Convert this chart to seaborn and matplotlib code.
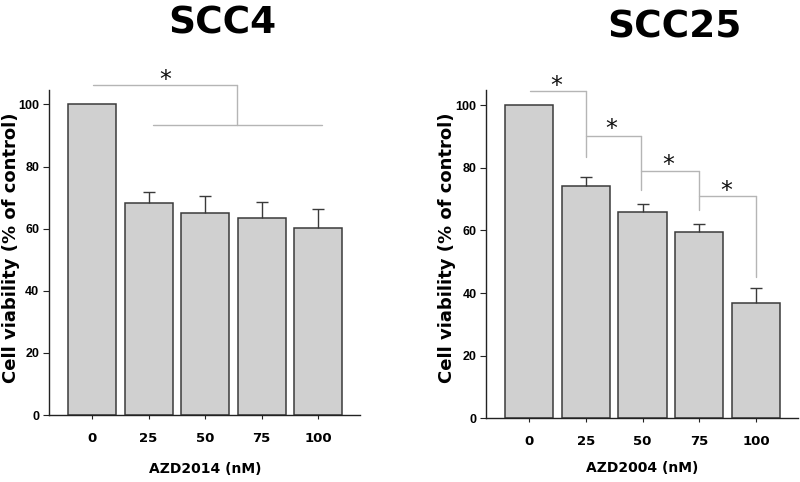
import matplotlib
matplotlib.use("Agg")
import matplotlib.pyplot as plt
import pandas as pd
import seaborn as sns

# Данные
doses = ["0", "25", "50", "75", "100"]
scc4_mean = [100.0, 68.2, 65.0, 63.3, 60.2]
scc4_err = [0.0, 3.5, 5.5, 5.4, 6.2]
scc25_mean = [100.0, 74.2, 65.9, 59.4, 36.7]
scc25_err = [0.0, 2.9, 2.7, 2.8, 4.8]

sns.set_style("ticks")
plt.rcParams["font.family"] = ["DejaVu Sans"]
plt.rcParams["text.color"] = "black"

BAR_FILL = "#d0d0d0"
BAR_EDGE = "#3a3a3a"
BRACKET = "#b5b5b5"


def draw_panel(ax, means, errs, xlim, ylim_top):
    df = pd.DataFrame({"dose": doses, "viability": means})
    sns.barplot(data=df, x="dose", y="viability", order=doses, color=BAR_FILL,
                edgecolor=BAR_EDGE, linewidth=1.1, width=0.85, errorbar=None,
                saturation=1, ax=ax)
    # только верхние усы, без нижнего колпачка
    idx = [i for i, e in enumerate(errs) if e > 0]
    _, caps, _ = ax.errorbar(idx, [means[i] for i in idx],
                             yerr=[[0] * len(idx), [errs[i] for i in idx]],
                             fmt="none", ecolor=BAR_EDGE, elinewidth=1.0,
                             capsize=4.5, capthick=1.0)
    caps[0].remove()
    ax.set_xlim(*xlim)
    ax.set_ylim(0, ylim_top)
    ax.set_yticks([0, 20, 40, 60, 80, 100])
    ax.set_xlabel("")
    ax.set_ylabel("")
    sns.despine(ax=ax)
    for s in ["left", "bottom"]:
        ax.spines[s].set_color("#222222")
        ax.spines[s].set_linewidth(1.0)
    ax.tick_params(axis="y", length=4, width=0.8, pad=3, colors="#222222")
    ax.tick_params(axis="x", length=3, width=0.8, pad=9, colors="#222222")
    for lab in ax.get_yticklabels():
        lab.set_family(["Liberation Sans Narrow", "Liberation Sans"])
        lab.set_fontweight("bold")
        lab.set_fontsize(9)
        lab.set_color("black")
    for lab in ax.get_xticklabels():
        lab.set_family(["DejaVu Sans"])
        lab.set_fontweight("bold")
        lab.set_fontsize(9.5)
        lab.set_color("black")


def line(ax, xs, ys):
    ax.plot(xs, ys, color=BRACKET, lw=1.0, clip_on=False, zorder=1)


def star(ax, x, y):
    ax.text(x, y, "*", ha="center", va="center", fontsize=17, color="#111111",
            clip_on=False)


fig = plt.figure(figsize=(8, 4.82), dpi=100)
ax1 = fig.add_axes([0.06125, 0.139, 0.389, 0.674])
ax2 = fig.add_axes([0.608, 0.132, 0.389, 0.681])

draw_panel(ax1, scc4_mean, scc4_err, (-0.76, 4.74), 104.6)
draw_panel(ax2, scc25_mean, scc25_err, (-0.75, 4.73), 104.8)

# Значимость: SCC4
line(ax1, [0.01, 2.56], [106.2, 106.2])
line(ax1, [2.56, 2.56], [106.2, 93.3])
line(ax1, [1.07, 4.06], [93.3, 93.3])
star(ax1, 1.29, 107.8)

# Значимость: SCC25
brackets = [
    (0.02, 1.0, 104.5, 83.5, 0.48, 106.1),
    (1.0, 1.98, 90.2, 72.9, 1.45, 92.3),
    (1.98, 2.99, 78.9, 66.5, 2.45, 80.8),
    (2.99, 4.0, 71.0, 45.2, 3.48, 72.5),
]
for x0, x1, ytop, ybot, sx, sy in brackets:
    line(ax2, [x0, x1], [ytop, ytop])
    line(ax2, [x1, x1], [ytop, ybot])
    star(ax2, sx, sy)

fig.text(0.2775, 0.9315, "SCC4", ha="center", va="baseline", fontsize=27,
         fontweight="bold", color="black")
fig.text(0.843, 0.923, "SCC25", ha="center", va="baseline", fontsize=27,
         fontweight="bold", color="black")

fig.text(0.014, 0.487, "Cell viability (% of control)", rotation=90, ha="center",
         va="center", fontsize=13, fontweight="bold", color="black")
fig.text(0.559, 0.487, "Cell viability (% of control)", rotation=90, ha="center",
         va="center", fontsize=13, fontweight="bold", color="black")

fig.text(0.256, 0.027, "AZD2014 (nM)", ha="center", va="center", fontsize=10,
         fontweight="bold", color="black")
fig.text(0.8025, 0.029, "AZD2004 (nM)", ha="center", va="center", fontsize=10,
         fontweight="bold", color="black")

fig.savefig("out.png", dpi=100)
